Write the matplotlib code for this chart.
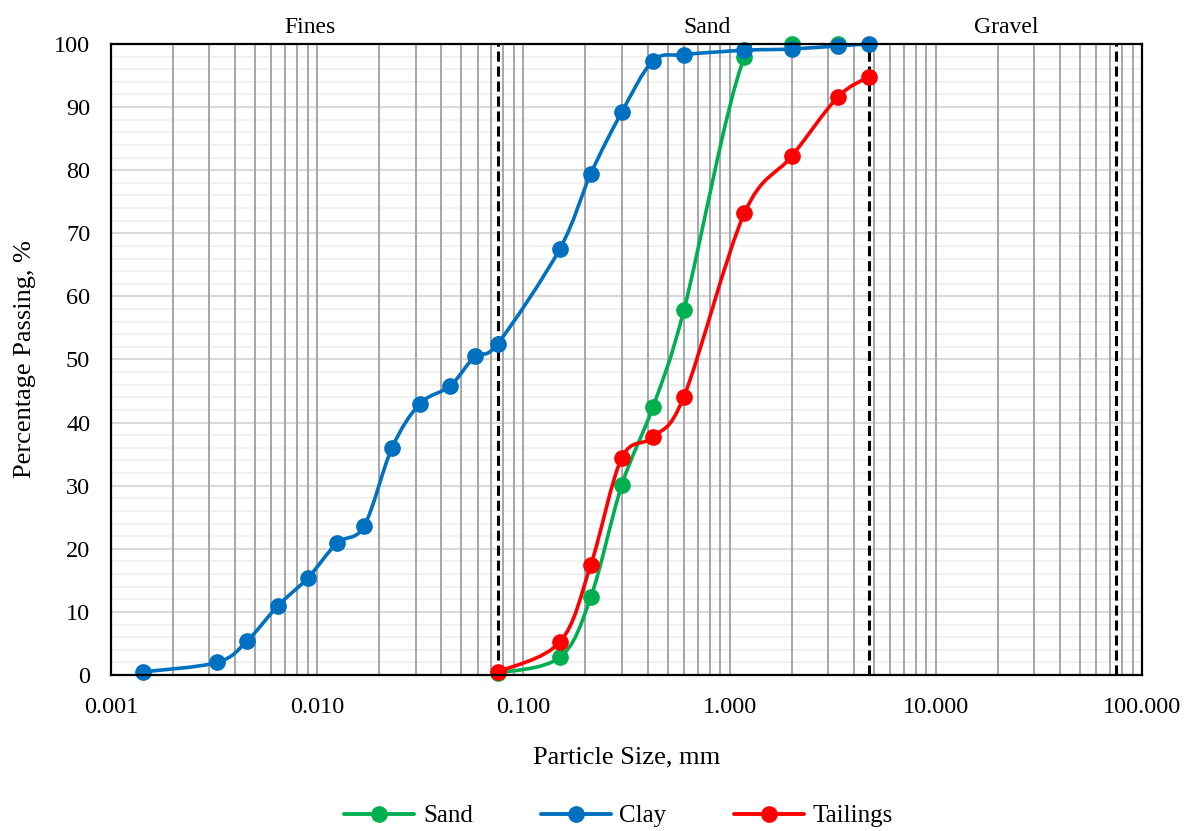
import numpy as np
import matplotlib
matplotlib.use("Agg")
import matplotlib.pyplot as plt
from matplotlib.path import Path
from matplotlib.patches import PathPatch
from matplotlib.lines import Line2D
from matplotlib.ticker import LogLocator, FuncFormatter, MultipleLocator

plt.rcParams['font.family'] = ['Liberation Serif', 'DejaVu Serif']

# sieve data, particle size in mm and percent passing
sand_size = [0.075, 0.15, 0.212, 0.3, 0.425, 0.6, 1.18, 2.0, 3.35]
sand_pass = [0.3, 2.8, 12.3, 30.1, 42.5, 57.8, 97.9, 100.0, 100.0]

clay_size = [0.00143, 0.00327, 0.00457, 0.00646, 0.00903, 0.01247, 0.01688,
             0.02306, 0.0315, 0.0441, 0.0582, 0.075, 0.15, 0.212, 0.3, 0.425,
             0.6, 1.18, 2.0, 3.35, 4.75]
clay_pass = [0.5, 2.0, 5.4, 11.0, 15.4, 20.9, 23.6, 36.0, 43.0, 45.8, 50.5,
             52.5, 67.5, 79.4, 89.2, 97.3, 98.3, 99.0, 99.2, 99.7, 100.0]

tail_size = [0.075, 0.15, 0.212, 0.3, 0.425, 0.6, 1.18, 2.0, 3.35, 4.75]
tail_pass = [0.5, 5.2, 17.4, 34.4, 37.7, 44.1, 73.2, 82.2, 91.6, 94.8]

boundaries = [0.075, 4.75, 75]
zones = ["Fines", "Sand", "Gravel"]
zone_x = [0.0092, 0.78, 22.0]


def smooth_path(xs, ys):
    # Excel-like smoothed line: cubic Bezier through points in log-x space
    lx = np.log10(xs)
    y = np.asarray(ys, float)
    n = len(lx)
    verts = [(xs[0], y[0])]
    codes = [Path.MOVETO]
    for i in range(n - 1):
        i0 = max(i - 1, 0)
        i3 = min(i + 2, n - 1)
        c1x = lx[i] + (lx[i + 1] - lx[i0]) / 6
        c1y = y[i] + (y[i + 1] - y[i0]) / 6
        c2x = lx[i + 1] - (lx[i3] - lx[i]) / 6
        c2y = y[i + 1] - (y[i3] - y[i]) / 6
        verts += [(10 ** c1x, c1y), (10 ** c2x, c2y), (xs[i + 1], y[i + 1])]
        codes += [Path.CURVE4] * 3
    return Path(verts, codes)


fig = plt.figure(figsize=(11.92, 8.31), dpi=100)
ax = fig.add_axes([0.0931, 0.1877, 0.8650, 0.7594])
ax.set_xscale('log')
ax.set_xlim(0.001, 100)
ax.set_ylim(0, 100)

ax.xaxis.set_major_locator(LogLocator(base=10, numticks=10))
ax.xaxis.set_minor_locator(LogLocator(base=10, subs=np.arange(2, 10), numticks=20))
ax.xaxis.set_major_formatter(FuncFormatter(lambda v, p: f"{v:.3f}"))
ax.yaxis.set_major_locator(MultipleLocator(10))

# horizontal grid under the vertical one
for yv in range(2, 100, 2):
    if yv % 10:
        ax.axhline(yv, color='#f0f0f0', lw=1.3, zorder=0.1)
    else:
        ax.axhline(yv, color='#d9d9d9', lw=1.5, zorder=0.2)
ax.grid(axis='x', which='both', color='#a6a6a6', lw=1.4)
ax.set_axisbelow(True)
ax.tick_params(which='both', length=0, labelsize=17.5)
ax.tick_params(axis='x', pad=16)
ax.tick_params(axis='y', pad=15)

for s in ax.spines.values():
    s.set_linewidth(1.6)
    s.set_zorder(6)

for b in boundaries:
    ax.axvline(b, color='black', ls=(0, (3.3, 1.6)), lw=2.2, zorder=1.5)

series = [
    ("Sand", sand_size, sand_pass, '#00b050'),
    ("Clay", clay_size, clay_pass, '#0070c0'),
    ("Tailings", tail_size, tail_pass, '#ff0000'),
]
handles = []
for k, (name, xs, ys, col) in enumerate(series):
    z = 3 + k
    ax.add_patch(PathPatch(smooth_path(xs, ys), fill=False, edgecolor=col,
                           lw=2.6, zorder=z, capstyle='round'))
    ax.plot(xs, ys, ls='none', marker='o', ms=11, color=col, zorder=z,
            clip_on=False)
    handles.append(Line2D([], [], color=col, lw=2.8, marker='o', ms=11,
                          solid_capstyle='round', label=name))

for name, zx in zip(zones, zone_x):
    ax.text(zx, 101.0, name, ha='center', va='bottom', fontsize=17)

ax.set_xlabel("Particle Size, mm", fontsize=19, labelpad=20)
ax.set_ylabel("Percentage Passing, %", fontsize=19, labelpad=13)

fig.legend(handles=handles, loc='center', bbox_to_anchor=(0.519, 0.018),
           ncol=3, frameon=False, fontsize=18, handlelength=2.8,
           columnspacing=2.7, handletextpad=0.35)

fig.savefig("out.png", dpi=100)
